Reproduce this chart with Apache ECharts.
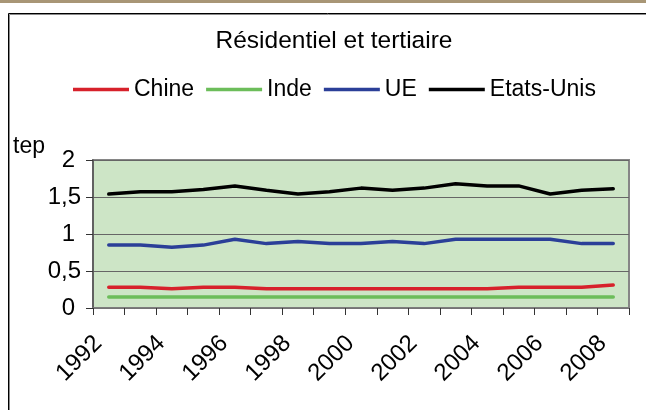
<!DOCTYPE html>
<html>
<head>
<meta charset="utf-8">
<script src="https://cdn.jsdelivr.net/npm/echarts@6/dist/echarts.min.js"></script>
<style>
  html, body { margin: 0; padding: 0; background: #ffffff; }
  #chart { width: 646px; height: 410px; }
</style>
</head>
<body>
<div id="chart"></div>
<script>
// Years on the category axis
const years = ['1992','1993','1994','1995','1996','1997','1998','1999','2000',
               '2001','2002','2003','2004','2005','2006','2007','2008'];

// Energy use per inhabitant, residential and tertiary sector (tep)
const chine     = [0.28,0.28,0.26,0.28,0.28,0.26,0.26,0.26,0.26,0.26,0.26,0.26,0.26,0.28,0.28,0.28,0.31];
const inde      = [0.15,0.15,0.15,0.15,0.15,0.15,0.15,0.15,0.15,0.15,0.15,0.15,0.15,0.15,0.15,0.15,0.15];
const ue        = [0.85,0.85,0.82,0.85,0.93,0.87,0.90,0.87,0.87,0.90,0.87,0.93,0.93,0.93,0.93,0.87,0.87];
const etatsUnis = [1.54,1.57,1.57,1.60,1.65,1.59,1.54,1.57,1.62,1.59,1.62,1.68,1.65,1.65,1.54,1.59,1.61];

const seriesNames  = ['Chine', 'Inde', 'UE', 'Etats-Unis'];
const seriesColors = ['#d7212b', '#6cbd5a', '#2b3f98', '#000000'];
const seriesData   = [chine, inde, ue, etatsUnis];

const FONT = "'Liberation Sans', Arial, sans-serif";

const chart = echarts.init(document.getElementById('chart'), null, { renderer: 'canvas' });

chart.setOption({
  animation: false,
  backgroundColor: '#ffffff',
  textStyle: { fontFamily: FONT },
  title: {
    text: 'Résidentiel et tertiaire',
    left: 334,
    textAlign: 'center',
    top: 29,
    padding: 0,
    textStyle: { fontFamily: FONT, fontSize: 24.5, fontWeight: 'normal', color: '#000' }
  },
  legend: {
    data: seriesNames,
    icon: 'rect',
    left: 73,
    top: 78,
    padding: 0,
    itemWidth: 56,
    itemHeight: 3.5,
    itemGap: 12,
    textStyle: { fontFamily: FONT, fontSize: 23, color: '#000' }
  },
  grid: {
    left: 93, right: 17, top: 160, bottom: 102,
    show: true,
    backgroundColor: '#cde5c6',
    borderColor: '#868686',
    borderWidth: 2
  },
  xAxis: {
    type: 'category',
    data: years,
    boundaryGap: true,
    axisLine: { show: true, lineStyle: { color: '#7a7a7a', width: 1.5 } },
    axisTick: { show: true, length: 7, interval: 0, lineStyle: { color: '#333', width: 1 } },
    axisLabel: {
      interval: 1,
      rotate: 45,
      margin: 21,
      padding: [0, 15, 0, 0],
      fontFamily: FONT,
      fontSize: 24,
      color: '#000'
    },
    splitLine: { show: false }
  },
  yAxis: {
    type: 'value',
    min: 0,
    max: 2,
    interval: 0.5,
    axisLine: { show: true, lineStyle: { color: '#555', width: 1.5 } },
    axisTick: { show: true, length: 7, lineStyle: { color: '#333', width: 1 } },
    axisLabel: {
      margin: 12,
      fontFamily: FONT,
      fontSize: 24,
      color: '#000',
      // whole numbers sit a little further from the axis than the decimals
      formatter: v => Number.isInteger(v) ? '{i|' + v + '}' : String(v).replace('.', ','),
      rich: {
        i: { fontFamily: FONT, fontSize: 24, color: '#000', padding: [0, 6, 0, 0] }
      }
    },
    splitLine: { show: true, lineStyle: { color: '#666', width: 1.2 } }
  },
  graphic: [
    // brown band along the top edge
    { type: 'rect', shape: { x: 0, y: 0, width: 646, height: 3 }, style: { fill: '#a89676' }, silent: true },
    // outer frame (black with grey shadow)
    { type: 'polyline', shape: { points: [[9.5, 420], [9.5, 14.5], [660, 14.5]] },
      style: { stroke: '#8a8a8a', lineWidth: 1, fill: null }, silent: true },
    { type: 'polyline', shape: { points: [[8.5, 420], [8.5, 13.5], [660, 13.5]] },
      style: { stroke: '#000', lineWidth: 1, fill: null }, silent: true },
    // unit label
    { type: 'text', left: 13, top: 135, silent: true,
      style: { text: 'tep', fontFamily: FONT, fontSize: 23, fill: '#000' } }
  ],
  series: seriesNames.map((name, i) => ({
    name: name,
    type: 'line',
    data: seriesData[i],
    symbol: 'none',
    smooth: false,
    color: seriesColors[i],
    lineStyle: { color: seriesColors[i], width: 3.5, join: 'round', cap: 'round' },
    z: 2 + i
  }))
});
</script>
</body>
</html>
